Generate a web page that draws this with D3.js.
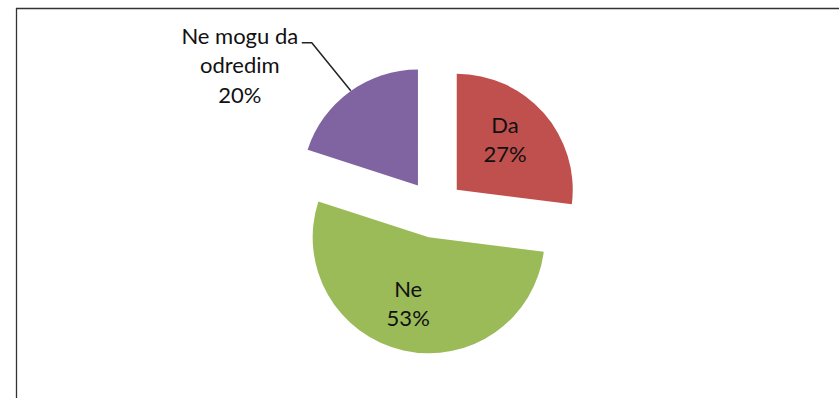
<!DOCTYPE html>
<html>
<head>
<meta charset="utf-8">
<script src="https://cdn.jsdelivr.net/npm/d3@7"></script>
<style>
  body { margin: 0; background: white; }
</style>
</head>
<body>
<div id="chart"></div>
<script>
// chart data
const labels = ["Da", "Ne", "Ne mogu da odredim"];
const values = [27, 53, 20];
const colors = ["#C0504D", "#9BBB59", "#8064A2"];

const width = 839;
const height = 398;

const svg = d3.select("#chart")
  .append("svg")
  .attr("width", width)
  .attr("height", height)
  .style("background-color", "white");

// frame (only top and left edges are visible in the crop)
svg.append("path")
  .attr("d", `M16.5,${height} V8.5 H${width}`)
  .attr("fill", "none")
  .attr("stroke", "#333")
  .attr("stroke-width", 1.3);

// pie geometry
const cx = 435, cy = 209;
const radius = 116;
const explode = 29;

const pie = d3.pie().sort(null).value(d => d.value);
const arcs = pie(labels.map((l, i) => ({ label: l, value: values[i], color: colors[i] })));

const arc = d3.arc().innerRadius(0).outerRadius(radius);
const labelArc = d3.arc().innerRadius(71).outerRadius(71);

const g = svg.append("g").attr("transform", `translate(${cx},${cy})`);

const slice = g.selectAll("g.slice")
  .data(arcs)
  .enter().append("g")
  .attr("class", "slice")
  .attr("transform", d => {
    const mid = (d.startAngle + d.endAngle) / 2;
    return `translate(${Math.sin(mid) * explode},${-Math.cos(mid) * explode})`;
  });

slice.append("path")
  .attr("d", arc)
  .attr("fill", d => d.data.color);

const font = "Lato, 'Open Sans', sans-serif";
const fs = 22;

// inside labels for the two big slices
slice.filter(d => d.data.value >= 25).each(function(d) {
  const [x, y] = labelArc.centroid(d);
  const t = d3.select(this).append("text")
    .attr("text-anchor", "middle")
    .style("font-family", font)
    .style("font-size", fs + "px")
    .attr("fill", "#111");
  t.append("tspan").attr("x", x - 5).attr("y", y - 10).text(d.data.label);
  t.append("tspan").attr("x", x - 5).attr("y", y + 19).text(d.data.value + "%");
});

// outside label with leader line for the small slice
slice.filter(d => d.data.value < 25).each(function(d) {
  const sel = d3.select(this);
  const [ex, ey] = d3.arc().innerRadius(radius).outerRadius(radius).centroid(d);
  // label block sits up-left of the slice
  const tx = ex - 110, ty = ey - 130;
  sel.append("polyline")
    .attr("points", [[tx + 62, ty + 81], [tx + 72, ty + 81], [ex + 1, ey - 1]].map(p => p.join(",")).join(" "))
    .attr("fill", "none")
    .attr("stroke", "#222")
    .attr("stroke-width", 1.5);
  const words = d.data.label.split(" ");
  const lines = [words.slice(0, 3).join(" "), words.slice(3).join(" "), d.data.value + "%"];
  const t = sel.append("text")
    .attr("text-anchor", "middle")
    .style("font-family", font)
    .style("font-size", fs + "px")
    .attr("fill", "#111");
  lines.forEach((ln, i) => {
    t.append("tspan").attr("x", tx).attr("y", ty + 82 + i * 29.5).text(ln);
  });
});
</script>
</body>
</html>
